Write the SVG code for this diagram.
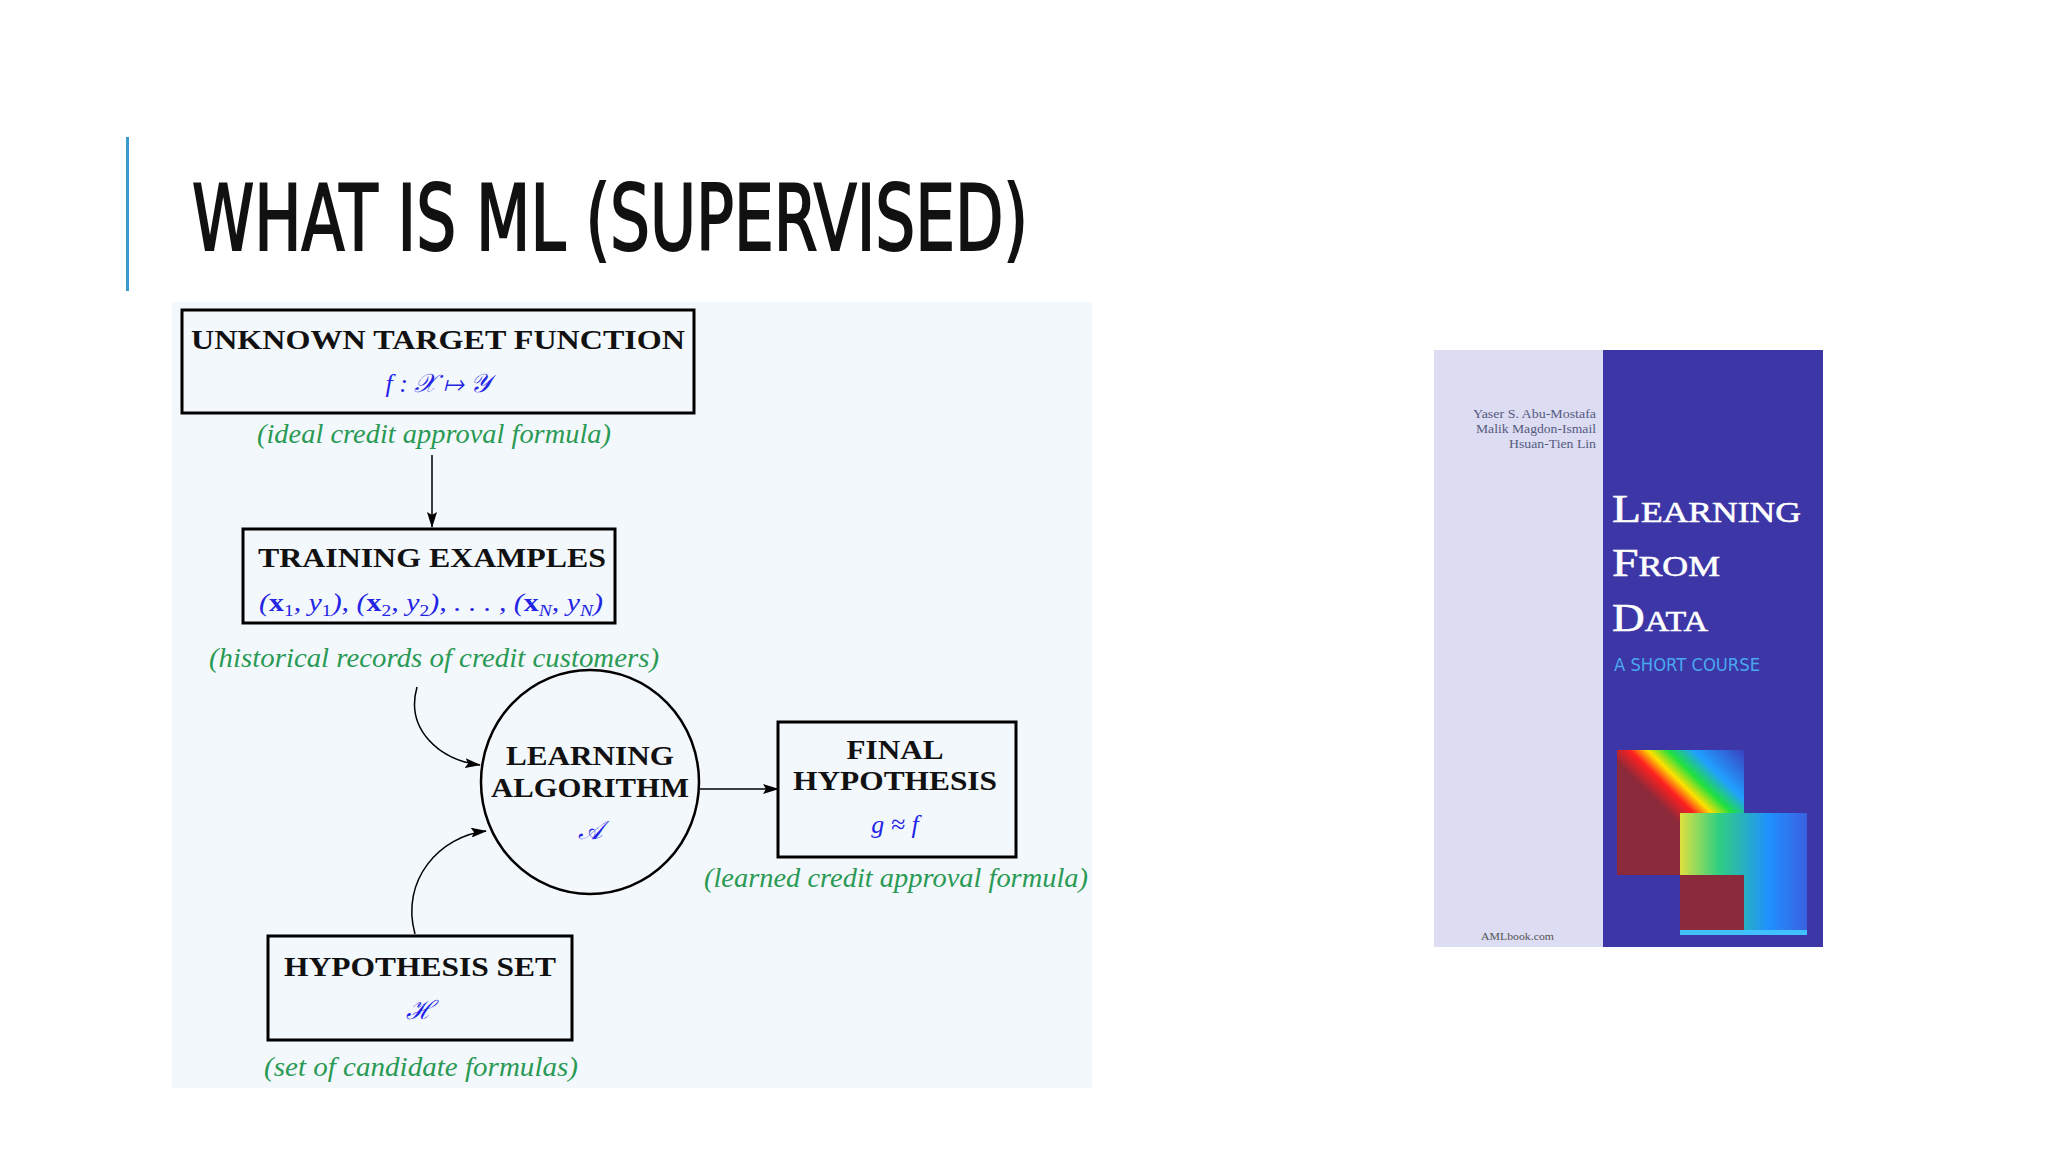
<svg xmlns="http://www.w3.org/2000/svg" width="2048" height="1152" viewBox="0 0 2048 1152">
<defs>
<marker id="ah" markerWidth="16" markerHeight="10" refX="15" refY="5" orient="auto" markerUnits="userSpaceOnUse"><path d="M0,0 L16,5 L0,10 L3,5 z" fill="#000"/></marker>
<linearGradient id="rb1" x1="0" y1="1" x2="1" y2="0"><stop offset="0.45" stop-color="#8a2a3a"/><stop offset="0.55" stop-color="#ff2020"/><stop offset="0.62" stop-color="#ffe000"/><stop offset="0.7" stop-color="#20e040"/><stop offset="0.8" stop-color="#20a0ff"/><stop offset="1" stop-color="#3a40c0"/></linearGradient>
<linearGradient id="rb2" x1="0" y1="0" x2="1" y2="0"><stop offset="0" stop-color="#e0e040"/><stop offset="0.3" stop-color="#30d080"/><stop offset="0.7" stop-color="#2090ff"/><stop offset="1" stop-color="#3a60e0"/></linearGradient>
</defs>
<style>
.box{fill:none;stroke:#000;stroke-width:3}
.hd{font-family:"Liberation Serif",serif;font-weight:bold;font-size:27px;fill:#111;text-anchor:middle}
.m{font-family:"Liberation Serif",serif;font-style:italic;font-size:26px;fill:#2424e6;text-anchor:middle}
.lb{font-family:"Liberation Serif",serif;font-style:italic;font-size:27px;fill:#2a9a55;text-anchor:middle}
.c{fill:none;stroke:#000;stroke-width:1.5}
.au{font-family:"Liberation Serif",serif;font-size:12px;fill:#555a80;text-anchor:end}
.bt{font-family:"Liberation Serif",serif;font-size:40px;fill:#fff;stroke:#fff;stroke-width:0.6}
</style>
<rect width="2048" height="1152" fill="#fff"/>
<rect x="126" y="137" width="3" height="154" fill="#3a9ad0"/>
<text x="192" y="250" font-family="DejaVu Sans Condensed,'Liberation Sans',sans-serif" font-size="90" fill="#111" stroke="#111" stroke-width="2" textLength="836" lengthAdjust="spacingAndGlyphs">WHAT IS ML (SUPERVISED)</text>
<rect x="172" y="302" width="920" height="786" fill="#f3f8fc"/>
<g id="target"><rect class="box" x="182" y="310" width="512" height="103"/>
<text class="hd" x="438" y="349" textLength="494" lengthAdjust="spacingAndGlyphs">UNKNOWN TARGET FUNCTION</text>
<text class="m" x="438" y="392">f : 𝒳 ↦ 𝒴</text>
<text class="lb" x="434" y="443" textLength="354" lengthAdjust="spacingAndGlyphs">(ideal credit approval formula)</text></g>
<g id="training"><rect class="box" x="243" y="529" width="372" height="94"/>
<text class="hd" x="432" y="567" textLength="348" lengthAdjust="spacingAndGlyphs">TRAINING EXAMPLES</text>
<text class="m" x="431" y="611" textLength="344" lengthAdjust="spacingAndGlyphs">(<tspan font-weight="bold" font-style="normal">x</tspan><tspan font-size="17" dy="5" font-style="normal">1</tspan><tspan dy="-5">, y</tspan><tspan font-size="17" dy="5" font-style="normal">1</tspan><tspan dy="-5">), (</tspan><tspan font-weight="bold" font-style="normal">x</tspan><tspan font-size="17" dy="5" font-style="normal">2</tspan><tspan dy="-5">, y</tspan><tspan font-size="17" dy="5" font-style="normal">2</tspan><tspan dy="-5">), . . . , (</tspan><tspan font-weight="bold" font-style="normal">x</tspan><tspan font-size="17" dy="5">N</tspan><tspan dy="-5">, y</tspan><tspan font-size="17" dy="5">N</tspan><tspan dy="-5">)</tspan></text>
<text class="lb" x="434" y="667" textLength="450" lengthAdjust="spacingAndGlyphs">(historical records of credit customers)</text></g>
<g id="algorithm"><ellipse cx="590" cy="782" rx="109" ry="112" fill="none" stroke="#000" stroke-width="2.5"/>
<text class="hd" x="590" y="765" textLength="168" lengthAdjust="spacingAndGlyphs">LEARNING</text>
<text class="hd" x="590" y="797" textLength="198" lengthAdjust="spacingAndGlyphs">ALGORITHM</text>
<text class="m" x="590" y="839" font-family="DejaVu Serif,serif">𝒜</text></g>
<g id="final"><rect class="box" x="778" y="722" width="238" height="135"/>
<text class="hd" x="895" y="759" textLength="97" lengthAdjust="spacingAndGlyphs">FINAL</text>
<text class="hd" x="895" y="790" textLength="204" lengthAdjust="spacingAndGlyphs">HYPOTHESIS</text>
<text class="m" x="895" y="833">g ≈ f</text>
<text class="lb" x="896" y="887" textLength="384" lengthAdjust="spacingAndGlyphs">(learned credit approval formula)</text></g>
<g id="hset"><rect class="box" x="268" y="936" width="304" height="104"/>
<text class="hd" x="420" y="976" textLength="272" lengthAdjust="spacingAndGlyphs">HYPOTHESIS SET</text>
<text class="m" x="420" y="1019" font-family="DejaVu Serif,serif">ℋ</text>
<text class="lb" x="421" y="1076" textLength="314" lengthAdjust="spacingAndGlyphs">(set of candidate formulas)</text></g>
<g id="connectors">
<line class="c" x1="432" y1="455" x2="432" y2="527" marker-end="url(#ah)"/>
<line class="c" x1="700" y1="789" x2="778" y2="789" marker-end="url(#ah)"/>
<path class="c" d="M417,687 C405,730 440,760 480,765" marker-end="url(#ah)"/>
<path class="c" d="M415,934 C400,880 440,836 486,831" marker-end="url(#ah)"/>
</g>
<g id="book">
<rect x="1434" y="350" width="170" height="597" fill="#dcdcf2"/>
<rect x="1603" y="350" width="220" height="597" fill="#3c36a6"/>
<text class="au" x="1596" y="418" textLength="123" lengthAdjust="spacingAndGlyphs">Yaser S. Abu-Mostafa</text>
<text class="au" x="1596" y="433" textLength="120" lengthAdjust="spacingAndGlyphs">Malik Magdon-Ismail</text>
<text class="au" x="1596" y="448" textLength="87" lengthAdjust="spacingAndGlyphs">Hsuan-Tien Lin</text>
<text class="bt" x="1612" y="522" textLength="189" lengthAdjust="spacingAndGlyphs">L<tspan font-size="30">EARNING</tspan></text>
<text class="bt" x="1612" y="576" textLength="108" lengthAdjust="spacingAndGlyphs">F<tspan font-size="30">ROM</tspan></text>
<text class="bt" x="1612" y="631" textLength="96" lengthAdjust="spacingAndGlyphs">D<tspan font-size="30">ATA</tspan></text>
<text x="1614" y="671" font-family="DejaVu Sans,sans-serif" font-size="17" fill="#4aa8f0" textLength="146" lengthAdjust="spacingAndGlyphs">A SHORT COURSE</text>
<rect x="1617" y="750" width="127" height="125" fill="url(#rb1)"/>
<rect x="1680" y="813" width="127" height="120" fill="url(#rb2)"/>
<rect x="1680" y="875" width="64" height="58" fill="#8a2a3a"/>
<rect x="1680" y="930" width="127" height="5" fill="#40c0ff"/>
<text x="1481" y="940" font-family="Liberation Serif,serif" font-size="11" fill="#555" textLength="73" lengthAdjust="spacingAndGlyphs">AMLbook.com</text>
</g>
</svg>
